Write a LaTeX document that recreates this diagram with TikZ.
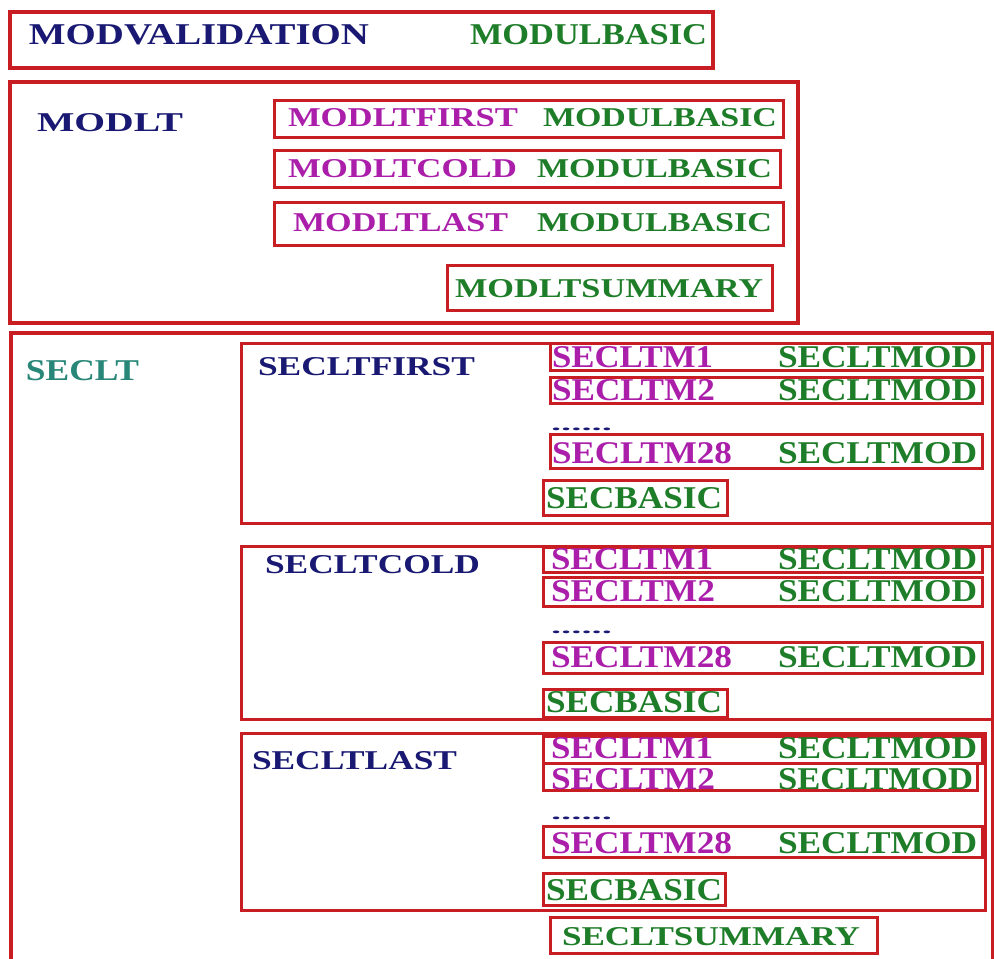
\documentclass[tikz,border=0pt]{standalone}
\usepackage{fontspec}
\usepackage{graphicx}
\setmainfont{Liberation Serif}[UprightFont={* Bold}, BoldFont={* Bold}]
\definecolor{navyc}{RGB}{25,25,115}
\definecolor{greenc}{RGB}{30,125,40}
\definecolor{magc}{RGB}{170,30,170}
\definecolor{tealc}{RGB}{40,135,120}
\definecolor{redc}{RGB}{200,30,35}
\newcommand\fitw[3]{\resizebox{#1pt}{#2pt}{#3}}
\tikzset{
  txt/.style={inner sep=0pt, outer sep=0pt, anchor=west},
  bigbox/.style={draw=redc, line width=3.2pt},
  smallbox/.style={draw=redc, line width=3pt},
}
\begin{document}
\begin{tikzpicture}[x=1pt,y=-1pt]
\useasboundingbox (0,0) rectangle (994,959);
\fill[white] (0,0) rectangle (994,959);
\begin{scope}
\clip (0,0) rectangle (994,959);
% ---------- boxes ----------
\draw[bigbox] (10,12) rectangle (713,68);
\draw[bigbox] (10,82) rectangle (798,323);
\draw[smallbox] (274,100) rectangle (783,137);
\draw[smallbox] (274,150) rectangle (780,187);
\draw[smallbox] (274,202) rectangle (783,245);
\draw[smallbox] (447,265) rectangle (772,310);
\draw[bigbox] (11,333) rectangle (993,975);
% SECLTFIRST
\draw[smallbox] (241,343) rectangle (993,523);
\draw[smallbox] (550,343) rectangle (982,370);
\draw[smallbox] (550,377) rectangle (982,403);
\draw[smallbox] (550,434) rectangle (982,468);
\draw[smallbox] (543,480) rectangle (727,515);
% SECLTCOLD
\draw[smallbox] (241,546) rectangle (993,719);
\draw[smallbox] (543,547) rectangle (982,572);
\draw[smallbox] (543,577) rectangle (982,606);
\draw[smallbox] (543,642) rectangle (982,673);
\draw[smallbox] (543,689) rectangle (727,717);
% SECLTLAST
\draw[smallbox] (241,733) rectangle (985,910);
\draw[smallbox] (543,736) rectangle (982,763);
\draw[smallbox] (543,763) rectangle (977,790);
\draw[smallbox] (543,826) rectangle (982,857);
\draw[smallbox] (543,873) rectangle (725,905);
\draw[smallbox] (550,917) rectangle (877,953);
\end{scope}
% ---------- texts ----------
\node[txt, text=navyc] (mv) at (29,35) {\fitw{340}{20}{MODVALIDATION}};
\node[txt, text=greenc] (mvb) at (470,35) {\fitw{237}{20}{MODULBASIC}};
\node[txt, text=navyc] (mlt) at (37,123) {\fitw{146}{18}{MODLT}};
\node[txt, text=magc] (m1a) at (288,118) {\fitw{230}{18}{MODLTFIRST}};
\node[txt, text=greenc] (m1b) at (543,118) {\fitw{234}{18}{MODULBASIC}};
\node[txt, text=magc] (m2a) at (288,169) {\fitw{229}{18}{MODLTCOLD}};
\node[txt, text=greenc] (m2b) at (537,169) {\fitw{235}{18}{MODULBASIC}};
\node[txt, text=magc] (m3a) at (293,223) {\fitw{215}{18}{MODLTLAST}};
\node[txt, text=greenc] (m3b) at (537,223) {\fitw{235}{18}{MODULBASIC}};
\node[txt, text=greenc] (msum) at (455,289) {\fitw{308}{18}{MODLTSUMMARY}};
\node[txt, text=tealc] (sl) at (26,371) {\fitw{113}{20}{SECLT}};
\node[txt, text=navyc] (sf) at (258,367) {\fitw{217}{18}{SECLTFIRST}};
\node[txt, text=navyc] (sc) at (265,565) {\fitw{215}{18}{SECLTCOLD}};
\node[txt, text=navyc] (sla) at (252,761) {\fitw{205}{18}{SECLTLAST}};
% FIRST rows
\node[txt, text=magc] (f1a) at (552,357) {\fitw{161}{21}{SECLTM1}};
\node[txt, text=greenc] (f1b) at (778,357) {\fitw{199}{21}{SECLTMOD}};
\node[txt, text=magc] (f2a) at (552,390) {\fitw{163}{21}{SECLTM2}};
\node[txt, text=greenc] (f2b) at (778,390) {\fitw{199}{21}{SECLTMOD}};
\node[txt, text=navyc] (fd) at (551,429) {\fitw{61}{2.5}{......}};
\node[txt, text=magc] (f3a) at (552,453) {\fitw{180}{21}{SECLTM28}};
\node[txt, text=greenc] (f3b) at (778,453) {\fitw{199}{21}{SECLTMOD}};
\node[txt, text=greenc] (fsb) at (546,498) {\fitw{176}{21}{SECBASIC}};
% COLD rows
\node[txt, text=magc] (c1a) at (551,559) {\fitw{162}{21}{SECLTM1}};
\node[txt, text=greenc] (c1b) at (778,559) {\fitw{199}{21}{SECLTMOD}};
\node[txt, text=magc] (c2a) at (551,591) {\fitw{164}{21}{SECLTM2}};
\node[txt, text=greenc] (c2b) at (778,591) {\fitw{199}{21}{SECLTMOD}};
\node[txt, text=navyc] (cd) at (551,632) {\fitw{61}{2.5}{......}};
\node[txt, text=magc] (c3a) at (551,657) {\fitw{181}{21}{SECLTM28}};
\node[txt, text=greenc] (c3b) at (778,657) {\fitw{199}{21}{SECLTMOD}};
\node[txt, text=greenc] (csb) at (546,702) {\fitw{176}{21}{SECBASIC}};
% LAST rows
\node[txt, text=magc] (l1a) at (551,748) {\fitw{162}{21}{SECLTM1}};
\node[txt, text=greenc] (l1b) at (778,748) {\fitw{199}{21}{SECLTMOD}};
\node[txt, text=magc] (l2a) at (551,779) {\fitw{164}{21}{SECLTM2}};
\node[txt, text=greenc] (l2b) at (778,779) {\fitw{195}{21}{SECLTMOD}};
\node[txt, text=navyc] (ld) at (551,818) {\fitw{61}{2.5}{......}};
\node[txt, text=magc] (l3a) at (551,843) {\fitw{181}{21}{SECLTM28}};
\node[txt, text=greenc] (l3b) at (778,843) {\fitw{199}{21}{SECLTMOD}};
\node[txt, text=greenc] (lsb) at (546,890) {\fitw{176}{21}{SECBASIC}};
\node[txt, text=greenc] (ssum) at (562,937) {\fitw{298}{18}{SECLTSUMMARY}};
\end{tikzpicture}
\end{document}
